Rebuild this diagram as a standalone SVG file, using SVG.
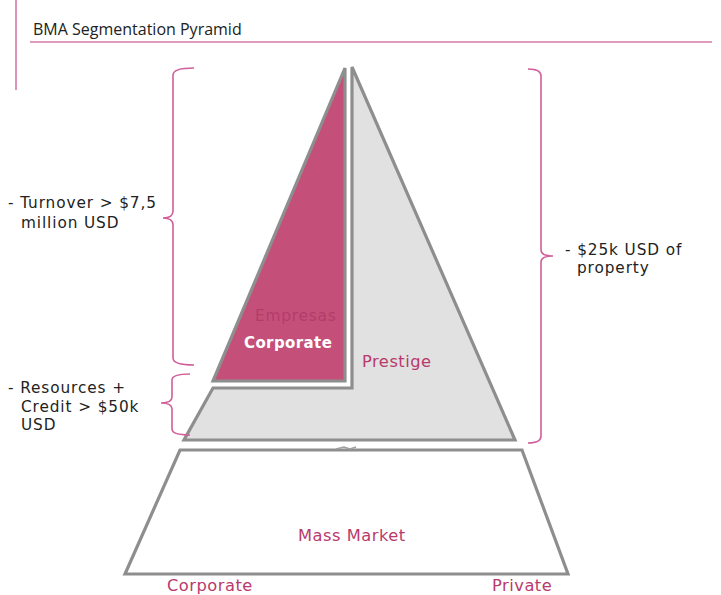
<svg xmlns="http://www.w3.org/2000/svg" width="721" height="595" viewBox="0 0 721 595">
  <style>
    .rule { stroke: #d478a8; stroke-width: 1.6; fill: none; }
    .brace { stroke: #d0609a; stroke-width: 1.6; fill: none; }
    .tier { stroke: #8e8e8e; stroke-width: 3.2; stroke-linejoin: miter; }
    .note { font-family: "DejaVu Sans", sans-serif; font-size: 15.3px; letter-spacing: 0.9px; fill: #222222; }
    .seg { font-family: "DejaVu Sans", sans-serif; font-size: 16.3px; letter-spacing: 0.5px; fill: #b83a6c; }
    .title { font-family: "Open Sans", "DejaVu Sans", sans-serif; font-size: 16px; fill: #222222; }
  </style>

  <rect width="721" height="595" fill="#ffffff"/>

  <!-- header -->
  <g id="header">
    <line class="rule" x1="16" y1="0" x2="16" y2="90"/>
    <line class="rule" x1="30" y1="42" x2="712" y2="42"/>
    <text class="title" x="33" y="35">BMA Segmentation Pyramid</text>
  </g>

  <!-- upper pyramid: prestige block with corporate wedge -->
  <g id="prestige">
    <polygon class="tier" points="352,67 515,440 184,440 213,388 352,388" fill="#e1e1e1"/>
    <text class="seg" x="362" y="367">Prestige</text>
  </g>

  <g id="corporate-top">
    <polygon class="tier" points="345,68 345,381 213,381" fill="#c4507a"/>
    <text x="255" y="321" font-family="DejaVu Sans, sans-serif" font-size="15.5" letter-spacing="0.7" fill="#b33d69">Empresas</text>
    <text x="244" y="348" font-family="DejaVu Sans, sans-serif" font-size="15" font-weight="bold" letter-spacing="0.4" fill="#ffffff">Corporate</text>
  </g>

  <!-- base tier -->
  <g id="mass-market">
    <polygon class="tier" points="180,450 522,450 568,574 125,574" fill="#ffffff"/>
    <text class="seg" x="298" y="541">Mass Market</text>
    <text class="seg" x="167" y="591">Corporate</text>
    <text class="seg" x="492" y="591">Private</text>
  </g>

  <!-- braces and criteria -->
  <g id="connectors">
    <path class="brace" d="M194,68 Q173,68 173,75 L173,211 Q173,218 163,218 Q173,218 173,225 L173,358 Q173,365 194,365"/>
    <path class="brace" d="M190,374 Q172,374 172,380 L172,397 Q172,403 161,403 Q172,403 172,409 L172,429 Q172,435 190,435"/>
    <path class="brace" d="M528,69 Q541,69 541,76 L541,250 Q541,256 553,256 Q541,256 541,262 L541,436 Q541,443 528,443"/>
    <path d="M336,449 L344,447 L350,449 L356,447" stroke="#a0a0a0" stroke-width="1.5" fill="none"/>
  </g>

  <g id="criteria-left-top">
    <text class="note" x="8" y="208">- Turnover &gt; $7,5</text>
    <text class="note" x="21" y="228">million USD</text>
  </g>
  <g id="criteria-left-bottom">
    <text class="note" x="8" y="393">- Resources +</text>
    <text class="note" x="21" y="412">Credit &gt; $50k</text>
    <text class="note" x="21" y="430">USD</text>
  </g>
  <g id="criteria-right">
    <text class="note" x="565" y="255">- $25k USD of</text>
    <text class="note" x="577" y="273">property</text>
  </g>
</svg>
